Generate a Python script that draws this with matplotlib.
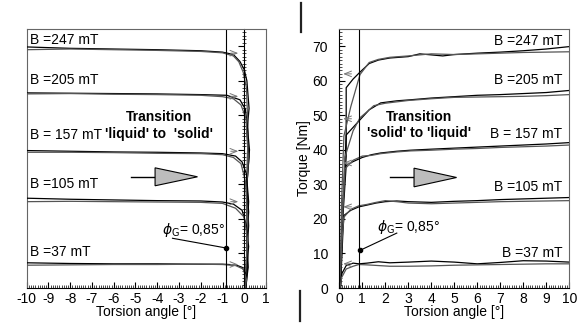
import numpy as np
import matplotlib
matplotlib.use("Agg")
import matplotlib.pyplot as plt
from matplotlib.ticker import MultipleLocator

plt.rcParams["font.family"] = ["Liberation Sans", "DejaVu Sans"]
plt.rcParams["mathtext.fontset"] = "dejavusans"

# ── Data: left panel (liquid -> solid), two runs per field strength ───────────
levels = ["B =247 mT", "B =205 mT", "B = 157 mT", "B =105 mT", "B =37 mT"]

left_x = {
    "247a": [-10, -8, -6, -4, -2, -1, -0.5, -0.2, 0.0, 0.12, 0.22, 0.12, 0.22, 0.12, 0.2, 0.12, 0.15, 0.08],
    "247b": [-10, -8, -6, -4, -2, -1, -0.5, -0.25, -0.05, 0.1, 0.18, 0.1, 0.15, 0.08],
    "205a": [-10, -8, -6, -4, -2, -0.8, -0.2, 0.05, 0.12, 0.24, 0.12, 0.2, 0.1, 0.06],
    "205b": [-10, -8, -6, -4, -2, -1, -0.5, -0.15, 0.08, 0.18, 0.1, 0.14, 0.05],
    "157a": [-10, -8, -6, -4, -2, -1, -0.4, -0.1, 0.1, 0.2, 0.12, 0.18, 0.06],
    "157b": [-10, -8, -6, -4, -2, -1, -0.5, -0.15, 0.05, 0.16, 0.1, 0.04],
    "105a": [-10, -8, -6, -4, -2, -1, -0.5, -0.1, 0.1, 0.2, 0.1, 0.05],
    "105b": [-10, -8, -6, -4, -2, -1, -0.4, 0.0, 0.15, 0.08, 0.04],
    "37a":  [-10, -8, -6, -4, -2, -1, -0.4, -0.1, 0.08, 0.1, 0.05],
    "37b":  [-10, -8, -6, -4, -2, -1, -0.4, -0.05, 0.1, 0.04],
}
left_t = {
    "247a": [69.8, 69.4, 69.2, 69.0, 68.7, 68.3, 67.6, 65.6, 63.2, 60, 52, 45, 38, 30, 22, 14, 6, 0],
    "247b": [69.0, 69.2, 69.0, 68.8, 68.5, 68.1, 67.2, 65.5, 62.5, 58, 45, 30, 15, 0],
    "205a": [56.5, 56.4, 56.3, 56.2, 56.0, 55.8, 54.5, 51.8, 48, 40, 30, 18, 8, 0],
    "205b": [56.2, 56.3, 56.1, 56.0, 55.8, 55.4, 54.8, 53.0, 49, 38, 24, 10, 0],
    "157a": [39.8, 39.6, 39.4, 39.3, 39.1, 38.9, 38.2, 36.5, 33, 25, 15, 6, 0],
    "157b": [39.3, 39.3, 39.2, 39.0, 38.9, 38.6, 37.8, 36.0, 31, 20, 8, 0],
    "105a": [26.0, 25.7, 25.5, 25.3, 25.2, 24.9, 24.3, 22.5, 18, 12, 5, 0],
    "105b": [25.0, 25.1, 25.0, 24.9, 24.8, 24.5, 23.1, 20.5, 14, 6, 0],
    "37a":  [7.3, 7.1, 7.0, 7.0, 6.9, 6.9, 6.7, 6.0, 4.0, 2.0, 0],
    "37b":  [6.6, 6.7, 6.8, 6.8, 6.9, 6.8, 6.5, 5.5, 2.5, 0],
}

# ── Data: right panel (solid -> liquid) ──────────────────────────────────────
right_x = {
    "247a": [0.05, 0.12, 0.3, 0.3, 0.6, 0.9, 1.3, 1.7, 2.2, 3.0, 3.5, 4.0, 4.5, 5.0, 6.0, 7.0, 8.0, 9.0, 10.0],
    "247b": [0.03, 0.1, 0.2, 0.5, 0.9, 1.3, 1.7, 2.2, 3.0, 4.0, 5.0, 6.0, 7.0, 8.0, 9.0, 10.0],
    "205a": [0.05, 0.15, 0.3, 0.6, 0.9, 1.3, 1.8, 2.5, 3.1, 4.0, 5.0, 6.0, 7.0, 8.0, 9.0, 10.0],
    "205b": [0.03, 0.12, 0.25, 0.6, 0.9, 1.2, 1.5, 2.0, 3.0, 4.0, 5.0, 6.0, 7.0, 8.0, 9.0, 10.0],
    "157a": [0.05, 0.15, 0.3, 0.6, 1.0, 1.4, 1.8, 2.5, 3.1, 4.0, 5.0, 6.0, 7.0, 8.0, 9.0, 10.0],
    "157b": [0.03, 0.12, 0.25, 0.6, 1.0, 1.4, 1.8, 2.5, 3.1, 4.0, 5.0, 6.0, 7.0, 8.0, 9.0, 10.0],
    "105a": [0.05, 0.15, 0.2, 0.5, 0.85, 1.2, 1.6, 2.0, 2.5, 3.0, 4.0, 5.0, 6.0, 7.0, 8.0, 9.0, 10.0],
    "105b": [0.03, 0.12, 0.2, 0.5, 0.85, 1.2, 1.6, 2.0, 2.5, 3.0, 4.0, 5.0, 6.0, 7.0, 8.0, 9.0, 10.0],
    "37a":  [0.03, 0.1, 0.3, 0.6, 0.85, 1.2, 1.7, 2.2, 3.0, 4.0, 5.0, 6.0, 7.0, 8.0, 9.0, 10.0],
    "37b":  [0.03, 0.1, 0.3, 0.6, 0.85, 1.2, 1.7, 2.2, 3.0, 4.0, 5.0, 6.0, 7.0, 8.0, 9.0, 10.0],
}
right_t = {
    "247a": [0, 20, 38, 58, 60.5, 62.5, 65, 66, 66.6, 67, 67.8, 67.5, 67.2, 67.6, 68.0, 68.3, 68.7, 69.2, 69.9],
    "247b": [0, 25, 44, 52.5, 61.8, 65.3, 66.2, 66.8, 67.2, 67.8, 67.6, 67.8, 68.0, 68.2, 68.3, 68.4],
    "205a": [0, 22, 44.3, 46.5, 48.7, 51.6, 53.6, 54.2, 54.5, 55.0, 55.4, 55.8, 56.0, 56.3, 56.6, 57.2],
    "205b": [0, 20, 38, 45.5, 49.3, 51.0, 52.8, 53.5, 54.3, 54.8, 55.2, 55.3, 55.4, 55.5, 55.7, 56.0],
    "157a": [0, 20, 35.5, 36.6, 37.8, 38.6, 39.1, 39.6, 39.9, 40.2, 40.5, 40.8, 41.1, 41.4, 41.7, 42.1],
    "157b": [0, 18, 34.5, 37.0, 38.2, 38.4, 38.9, 39.4, 39.7, 39.9, 40.2, 40.4, 40.7, 40.9, 41.1, 41.4],
    "105a": [0, 15, 21, 22.5, 23.5, 24.0, 24.6, 25.0, 25.2, 25.0, 24.8, 25.1, 25.3, 25.6, 25.8, 26.0, 26.2],
    "105b": [0, 14, 20.5, 22.8, 23.8, 24.2, 24.8, 25.3, 25.0, 24.6, 24.4, 24.6, 24.8, 25.0, 25.1, 25.2, 25.3],
    "37a":  [0, 4, 6.5, 7.2, 7.0, 7.2, 7.6, 7.3, 7.5, 7.8, 7.5, 7.0, 7.4, 7.9, 7.8, 7.5],
    "37b":  [0, 3, 5.5, 6.3, 6.8, 6.7, 6.5, 6.3, 6.3, 6.4, 6.6, 6.7, 6.8, 6.9, 7.0, 7.0],
}

# label y positions and direction-marker levels
label_t_left = [71.7, 60.3, 44.3, 30.0, 10.5]
label_t_right = [71.5, 60.3, 44.6, 29.3, 10.2]
marker_t_left = [68.0, 55.5, 39.6, 25.0, 6.8]
marker_t_right = [62.0, 49.0, 36.2, 23.5, 7.0]

phi_g = 0.85

FS = 10
GRAY = "#666666"


def style_axis(ax, xlim, xmaj):
    ax.set_xlim(*xlim)
    ax.set_ylim(0, 75)
    ax.xaxis.set_major_locator(MultipleLocator(xmaj))
    ax.xaxis.set_minor_locator(MultipleLocator(0.1))
    ax.tick_params(axis="x", which="major", direction="in", length=4, width=0.8,
                   labelsize=FS, pad=3, top=False)
    ax.tick_params(axis="x", which="minor", direction="in", length=2, width=0.5, top=False)
    for s in ("top", "right"):
        ax.spines[s].set_color(GRAY)
        ax.spines[s].set_linewidth(0.8)
    ax.spines["bottom"].set_linewidth(0.8)
    ax.set_xlabel("Torsion angle [°]", fontsize=FS, labelpad=-1)


def draw_big_arrow(ax, x0, x1, x2, y, half):
    ax.plot([x0, x1], [y, y], color="k", lw=1.0)
    ax.fill([x1, x2, x1], [y + half, y, y - half], facecolor="#bdbdbd",
            edgecolor="k", lw=0.8, zorder=3)


fig = plt.figure(figsize=(5.87, 3.29), dpi=100)
ax1 = fig.add_axes([0.0455, 0.1246, 0.4077, 0.7873])
ax2 = fig.add_axes([0.578, 0.1246, 0.3918, 0.7873])

# ── Left panel ───────────────────────────────────────────────────────────────
style_axis(ax1, (-10, 1), 1)
ax1.spines["left"].set_position(("data", 0))
ax1.spines["left"].set_linewidth(0.8)
ax1.axvline(-10, color=GRAY, lw=0.8, clip_on=False)
ax1.yaxis.set_major_locator(MultipleLocator(10))
ax1.yaxis.set_minor_locator(MultipleLocator(1))
ax1.tick_params(axis="y", which="major", direction="out", length=4, width=0.8,
                labelleft=False)
ax1.tick_params(axis="y", which="minor", direction="inout", length=3, width=0.5)
ax1.set_xticks(np.arange(-10, 2, 1))
ax1.set_xticklabels([str(v) for v in range(-10, 2)])

keys = ["247", "205", "157", "105", "37"]
for k in keys:
    ax1.plot(left_x[k + "a"], left_t[k + "a"], color="k", lw=0.9)
    ax1.plot(left_x[k + "b"], left_t[k + "b"], color="#555555", lw=0.9)
for lab, t in zip(levels, label_t_left):
    ax1.text(-9.85, t, lab, fontsize=FS, va="center", ha="left")
for t in marker_t_left:
    ax1.annotate("", xy=(-0.15, t), xytext=(-0.75, t),
                 arrowprops=dict(arrowstyle="->,head_length=0.5,head_width=0.2",
                                 color="#777777", lw=0.7))
ax1.axvline(-phi_g, color="k", lw=0.8)
ax1.plot([-phi_g], [11.6], "o", color="k", ms=3)
ax1.plot([-3.3, -phi_g], [14.4, 11.6], color="k", lw=0.8)
ax1.text(-3.8, 16.7, r"$\phi_{\mathrm{G}}$= 0,85°", fontsize=FS, va="center", ha="left")
ax1.text(-3.9, 49.4, "Transition", fontsize=FS, fontweight="bold", ha="center", va="center")
ax1.text(-3.9, 44.6, "'liquid' to  'solid'", fontsize=FS, fontweight="bold",
         ha="center", va="center")
draw_big_arrow(ax1, -5.2, -4.1, -2.15, 32.2, 2.6)

# ── Right panel ──────────────────────────────────────────────────────────────
style_axis(ax2, (0, 10), 1)
ax2.yaxis.set_major_locator(MultipleLocator(10))
ax2.yaxis.set_minor_locator(MultipleLocator(1))
ax2.tick_params(axis="y", which="major", direction="in", length=4, width=0.8,
                labelsize=FS, pad=8, right=False)
ax2.tick_params(axis="y", which="minor", direction="in", length=2, width=0.5, right=False)
ax2.set_ylabel("Torque [Nm]", fontsize=FS, labelpad=1)

for k in keys:
    ax2.plot(right_x[k + "a"], right_t[k + "a"], color="k", lw=0.9)
    ax2.plot(right_x[k + "b"], right_t[k + "b"], color="#555555", lw=0.9)
for lab, t in zip(levels, label_t_right):
    ax2.text(9.7, t, lab, fontsize=FS, va="center", ha="right")
for t in marker_t_right:
    ax2.annotate("", xy=(0.05, t), xytext=(0.65, t),
                 arrowprops=dict(arrowstyle="->,head_length=0.5,head_width=0.2",
                                 color="#777777", lw=0.7))
ax2.axvline(phi_g, color="k", lw=0.8)
ax2.plot([phi_g + 0.05], [10.9], "o", color="k", ms=3)
ax2.plot([2.5, phi_g + 0.05], [15.9, 10.9], color="k", lw=0.8)
ax2.text(1.65, 17.7, r"$\phi_{\mathrm{G}}$= 0,85°", fontsize=FS, va="center", ha="left")
ax2.text(3.45, 49.4, "Transition", fontsize=FS, fontweight="bold", ha="center", va="center")
ax2.text(3.45, 45.0, "'solid' to 'liquid'", fontsize=FS, fontweight="bold",
         ha="center", va="center")
draw_big_arrow(ax2, 2.2, 3.25, 5.1, 32.0, 2.7)

# stray separator bars from the source page
fig.add_artist(plt.Line2D([0.512, 0.512], [0.903, 0.991], color="#222222", lw=1.6))
fig.add_artist(plt.Line2D([0.511, 0.511], [0.024, 0.115], color="#222222", lw=1.6))

fig.savefig("out.png", dpi=100)
